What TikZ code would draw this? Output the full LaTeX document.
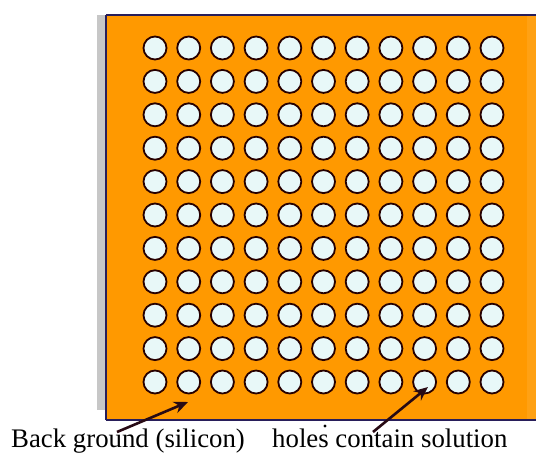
\documentclass[tikz,border=0pt]{standalone}
\usepackage{fontspec}
\setmainfont{Liberation Serif}
\usetikzlibrary{arrows.meta}
\definecolor{siorange}{RGB}{255,153,0}
\definecolor{holefill}{RGB}{232,248,248}
\definecolor{edgenavy}{RGB}{40,30,90}
\definecolor{arrowdark}{RGB}{40,10,20}
\begin{document}
\begin{tikzpicture}[x=1pt,y=1pt,
  hole/.style={circle,draw=black!85!red,line width=1.8pt,fill=holefill,minimum size=23pt,inner sep=0pt},
  lbl/.style={font=\fontsize{26.8}{28}\selectfont,anchor=base west,inner sep=0pt,text=black},
  pointer/.style={draw=arrowdark,line width=2.6pt,-{Stealth[length=14pt,width=12pt]}}]
\useasboundingbox (0,0) rectangle (536,459);
\fill[white] (0,0) rectangle (536,459);
% shadow
\fill[black!22] (97,49) rectangle (106,444);
% silicon background
\fill[siorange] (106,39) rectangle (536,444);
\fill[siorange!92!white] (527,39) rectangle (536,444);
\draw[edgenavy,line width=1.6pt] (106,444) -- (536,444);
\draw[edgenavy,line width=1.2pt] (106,39) -- (106,444);
\draw[edgenavy,line width=1.2pt] (106,39) -- (536,39);
% holes
\foreach \i in {0,...,10}{
  \foreach \j in {0,...,10}{
    \node[hole] (h-\i-\j) at ({155+33.7*\i},{411-33.4*\j}) {};
  }
}
% labels
\node[lbl] (bg) at (11,12) {Back ground (silicon)};
\node[lbl] (hc) at (272,12) {holes contain solution};
\coordinate (bgt) at (117,27);
\coordinate (bgh) at (188,57);
\coordinate (hct) at (373,27);
\coordinate (hch) at (428,72);
\draw[pointer] (bgt) -- (bgh);
\draw[pointer] (hct) -- (hch);
\fill[black] (325,33) circle (1.6pt);
\end{tikzpicture}
\end{document}
